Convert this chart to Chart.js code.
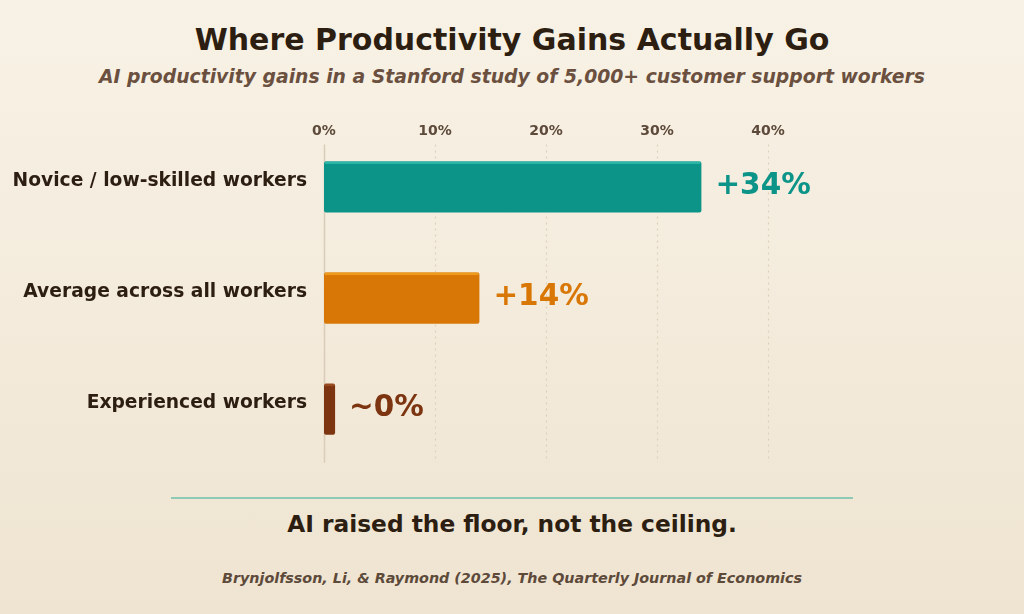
<!DOCTYPE html>
<html>
<head>
<meta charset="utf-8">
<script src="https://cdn.jsdelivr.net/npm/chart.js@4.4.1/dist/chart.umd.min.js"></script>
<style>
  html, body { margin: 0; padding: 0; }
  body {
    width: 1024px; height: 614px; position: relative; overflow: hidden;
    background: linear-gradient(180deg, #f8f2e6 0%, #efe4d1 100%);
    font-family: "DejaVu Sans", sans-serif;
  }
  .txt { position: absolute; left: 0; width: 1024px; text-align: center; white-space: nowrap; }
  #title { top: 22px; font-size: 30px; font-weight: bold; color: #2d1e12; }
  #subtitle { top: 66px; font-size: 18.8px; font-weight: bold; font-style: italic; color: #6b5040; }
  #rule { position: absolute; left: 171px; width: 682px; top: 497px; height: 1.5px; background: #8ecab5; }
  #takeaway { top: 510px; font-size: 23.3px; font-weight: bold; color: #2d1e12; }
  #source { top: 570px; font-size: 14.3px; font-weight: bold; font-style: italic; color: #5d4a3a; }
  #wrap { position: absolute; left: 0; top: 95px; width: 1024px; height: 398px; }
</style>
</head>
<body>
<div class="txt" id="title">Where Productivity Gains Actually Go</div>
<div class="txt" id="subtitle">AI productivity gains in a Stanford study of 5,000+ customer support workers</div>
<div id="wrap"><canvas id="chart_1"></canvas></div>
<div id="rule"></div>
<div class="txt" id="takeaway">AI raised the floor, not the ceiling.</div>
<div class="txt" id="source">Brynjolfsson, Li, &amp; Raymond (2025), The Quarterly Journal of Economics</div>

<script>
const groups = ['Novice / low-skilled workers', 'Average across all workers', 'Experienced workers'];
const gains = [34, 14, 1];
const gainLabels = ['+34%', '+14%', '~0%'];
const barColors = ['#0d9488', '#d97706', '#7c3510'];
const barTops = ['#2bb5a6', '#ee9a1c', '#9a4a1f'];
const xTicks = [0, 10, 20, 30, 40];

// dotted vertical guides, a bit shorter than the plot area
const guides = {
  id: 'guides',
  beforeDatasetsDraw(chart) {
    const ctx = chart.ctx;
    const x = chart.scales.x;
    const area = chart.chartArea;
    ctx.save();
    xTicks.forEach((t) => {
      const px = Math.round(x.getPixelForValue(t)) + 0.5;
      ctx.beginPath();
      if (t === 0) {
        ctx.setLineDash([]);
        ctx.strokeStyle = '#d9ccb9';
        ctx.lineWidth = 1.5;
      } else {
        ctx.setLineDash([2, 4]);
        ctx.strokeStyle = '#ddd1bd';
        ctx.lineWidth = 1.2;
      }
      ctx.moveTo(px, area.top + 13);
      ctx.lineTo(px, area.bottom - 2);
      ctx.stroke();
    });
    ctx.restore();
  }
};

// lighter strip on top of each bar + value text
const barDecor = {
  id: 'barDecor',
  afterDatasetsDraw(chart) {
    const ctx = chart.ctx;
    const meta = chart.getDatasetMeta(0);
    ctx.save();
    meta.data.forEach((bar, i) => {
      const top = bar.y - bar.height / 2;
      ctx.fillStyle = barTops[i];
      ctx.fillRect(bar.base + 1, top, bar.x - bar.base - 2, 2.5);
      ctx.font = 'bold 29.5px "DejaVu Sans"';
      ctx.fillStyle = barColors[i];
      ctx.textAlign = 'left';
      ctx.textBaseline = 'middle';
      ctx.fillText(gainLabels[i], bar.x + 14, bar.y - 1);
    });
    ctx.restore();
  }
};

new Chart(document.getElementById('chart_1'), {
  type: 'bar',
  data: {
    labels: groups,
    datasets: [{
      data: gains,
      backgroundColor: barColors,
      borderRadius: 2,
      borderSkipped: false,
      categoryPercentage: 1,
      barPercentage: 0.46
    }]
  },
  options: {
    indexAxis: 'y',
    responsive: true,
    maintainAspectRatio: false,
    animation: false,
    layout: { padding: { left: 0, right: 256, top: 0, bottom: 3.5 } },
    plugins: {
      legend: { display: false },
      tooltip: { enabled: false }
    },
    scales: {
      x: {
        position: 'top',
        min: 0,
        max: 40,
        afterBuildTicks: (scale) => { scale.ticks = xTicks.map((v) => ({ value: v })); },
        afterFit: (scale) => { scale.height = 36.5; },
        grid: { display: false, drawTicks: false },
        border: { display: false },
        ticks: {
          mirror: true,
          padding: -9,
          color: '#5d4a3a',
          font: { family: 'DejaVu Sans', size: 14, weight: 'bold' },
          callback: (v) => v + '%'
        }
      },
      y: {
        afterFit: (scale) => { scale.width = 324; },
        grid: { display: false, drawTicks: false },
        border: { display: false },
        ticks: {
          padding: 17,
          labelOffset: -6,
          color: '#2d1e12',
          font: { family: 'DejaVu Sans', size: 18.7, weight: 'bold' }
        }
      }
    }
  },
  plugins: [guides, barDecor]
});
</script>
</body>
</html>
